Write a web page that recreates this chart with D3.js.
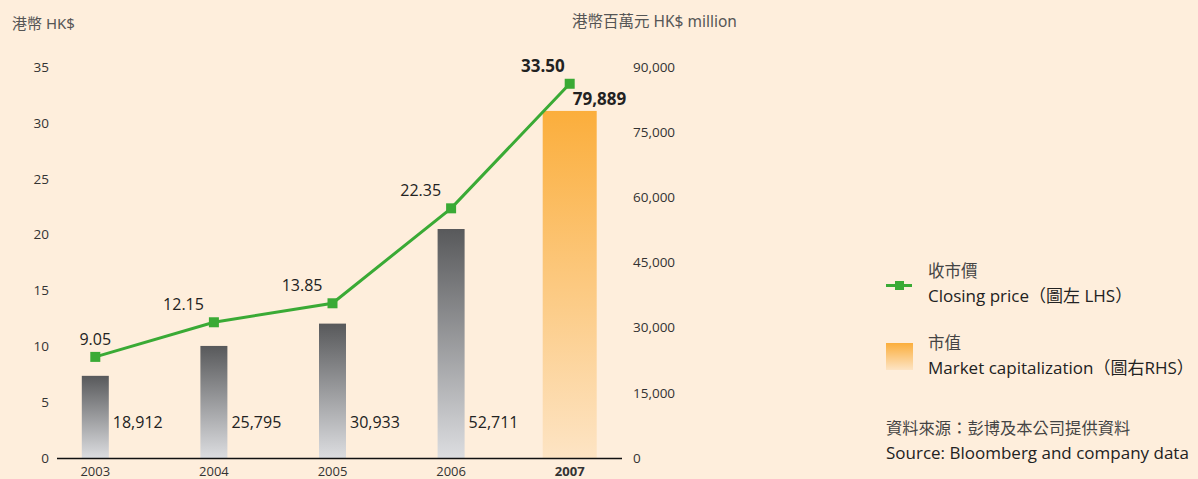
<!DOCTYPE html>
<html>
<head>
<meta charset="utf-8">
<script src="https://cdn.jsdelivr.net/npm/d3@7"></script>
<style>
  body { margin: 0; background: #feeedc; }
  svg { display: block; }
  text { font-family: "Open Sans", "Noto Sans CJK TC", sans-serif; }
</style>
</head>
<body>
<svg id="canvas" width="1198" height="479"></svg>
<script>
"use strict"

// chart data
let years = ["2003", "2004", "2005", "2006", "2007"];
let closingPrice = [9.05, 12.15, 13.85, 22.35, 33.50];
let marketCap = [18912, 25795, 30933, 52711, 79889];
let leftTicks = [0, 5, 10, 15, 20, 25, 30, 35];
let rightTicks = [0, 15000, 30000, 45000, 60000, 75000, 90000];

let svg = d3.select("#canvas");
let cjk = "\"Noto Sans CJK TC\", sans-serif";

// gradients for the bars
let defs = svg.append("defs");
let grey = defs.append("linearGradient").attr("id", "greyGrad")
    .attr("x1", 0).attr("y1", 0).attr("x2", 0).attr("y2", 1);
grey.append("stop").attr("offset", "0%").attr("stop-color", "#58595b");
grey.append("stop").attr("offset", "100%").attr("stop-color", "#dcdde0");
let orange = defs.append("linearGradient").attr("id", "orangeGrad")
    .attr("x1", 0).attr("y1", 0).attr("x2", 0).attr("y2", 1);
orange.append("stop").attr("offset", "0%").attr("stop-color", "#fbae3c");
orange.append("stop").attr("offset", "100%").attr("stop-color", "#fde4c4");

// scales
let x = d3.scaleBand().domain(years).range([36, 629]);
let yLeft = d3.scaleLinear().domain([0, 35]).range([458, 67]);
let yRight = d3.scaleLinear().domain([0, 90000]).range([458, 67]);
let cx = d => x(d) + x.bandwidth() / 2;

// axis titles
svg.append("text").attr("x", 12).attr("y", 29)
    .attr("font-size", 15).attr("fill", "#555")
    .style("font-family", "\"Noto Sans\", " + cjk)
    .text("港幣 HK$");
svg.append("text").attr("x", 572).attr("y", 27)
    .attr("font-size", 15.5).attr("fill", "#555")
    .style("font-family", "\"Noto Sans\", " + cjk)
    .text("港幣百萬元 HK$ million");

// left axis (labels only)
let leftAxis = svg.append("g").attr("transform", "translate(49,0)")
    .call(d3.axisLeft(yLeft).tickValues(leftTicks).tickSize(0).tickPadding(0));
leftAxis.select(".domain").remove();
leftAxis.selectAll("text").attr("font-size", 13.5).attr("fill", "#333")
    .style("font-family", "\"Open Sans\", sans-serif");

// right axis (labels only)
let rightAxis = svg.append("g").attr("transform", "translate(633,0)")
    .call(d3.axisRight(yRight).tickValues(rightTicks).tickSize(0).tickPadding(0)
        .tickFormat(d3.format(",")));
rightAxis.select(".domain").remove();
rightAxis.selectAll("text").attr("font-size", 13.5).attr("fill", "#333")
    .style("font-family", "\"Open Sans\", sans-serif");

// bars
let barW = i => (i === years.length - 1 ? 54 : 27);
svg.selectAll(".bar").data(marketCap).enter().append("rect")
    .attr("class", "bar")
    .attr("x", (d, i) => cx(years[i]) - barW(i) / 2)
    .attr("y", d => yRight(d))
    .attr("width", (d, i) => barW(i))
    .attr("height", d => yRight(0) - yRight(d))
    .attr("fill", (d, i) => i === years.length - 1 ? "url(#orangeGrad)" : "url(#greyGrad)");

// bar value labels
svg.selectAll(".barLabel").data(marketCap).enter().append("text")
    .attr("class", "barLabel")
    .attr("x", (d, i) => i === years.length - 1 ? cx(years[i]) + 3 : cx(years[i]) + barW(i) / 2 + 4)
    .attr("y", (d, i) => i === years.length - 1 ? yRight(d) - 6 : 428)
    .attr("font-size", (d, i) => i === years.length - 1 ? 17 : 16)
    .attr("font-weight", (d, i) => i === years.length - 1 ? "bold" : "normal")
    .attr("fill", "#222")
    .text(d => d3.format(",")(d));

// x axis baseline
svg.append("line")
    .attr("x1", 57).attr("x2", 622)
    .attr("y1", 458.5).attr("y2", 458.5)
    .attr("stroke", "#111").attr("stroke-width", 1.3);

// year labels
svg.selectAll(".year").data(years).enter().append("text")
    .attr("class", "year")
    .attr("x", d => cx(d))
    .attr("y", 476)
    .attr("text-anchor", "middle")
    .attr("font-size", 13)
    .attr("font-weight", (d, i) => i === years.length - 1 ? "bold" : "normal")
    .attr("fill", "#333")
    .text(d => d);

// closing price line
let line = d3.line().x((d, i) => cx(years[i])).y(d => yLeft(d));
svg.append("path").datum(closingPrice)
    .attr("d", line)
    .attr("fill", "none")
    .attr("stroke", "#3aaa35")
    .attr("stroke-width", 3);

svg.selectAll(".marker").data(closingPrice).enter().append("rect")
    .attr("class", "marker")
    .attr("x", (d, i) => cx(years[i]) - 5)
    .attr("y", d => yLeft(d) - 5)
    .attr("width", 10).attr("height", 10)
    .attr("fill", "#3aaa35");

// price labels
svg.selectAll(".priceLabel").data(closingPrice).enter().append("text")
    .attr("class", "priceLabel")
    .attr("x", (d, i) => i === 0 ? cx(years[i]) : cx(years[i]) - (i === years.length - 1 ? 5 : 10))
    .attr("y", d => yLeft(d) - 12)
    .attr("text-anchor", (d, i) => i === 0 ? "middle" : "end")
    .attr("font-size", (d, i) => i === years.length - 1 ? 17 : 16)
    .attr("font-weight", (d, i) => i === years.length - 1 ? "bold" : "normal")
    .attr("fill", "#222")
    .text(d => d.toFixed(2));

// legend
let legend = svg.append("g").style("font-family", "\"Noto Sans\", " + cjk);
legend.append("line")
    .attr("x1", 886).attr("x2", 912).attr("y1", 285.5).attr("y2", 285.5)
    .attr("stroke", "#3aaa35").attr("stroke-width", 3);
legend.append("rect")
    .attr("x", 895).attr("y", 281).attr("width", 9).attr("height", 9)
    .attr("fill", "#3aaa35");
legend.append("text").attr("x", 928).attr("y", 277)
    .attr("font-size", 16.5).attr("fill", "#444").style("font-family", cjk)
    .text("收市價");
legend.append("text").attr("x", 928).attr("y", 302)
    .attr("font-size", 17).attr("fill", "#222")
    .text("Closing price（圖左 LHS）");

legend.append("rect")
    .attr("x", 886).attr("y", 343).attr("width", 27).attr("height", 27)
    .attr("fill", "url(#orangeGrad)");
legend.append("text").attr("x", 928).attr("y", 349)
    .attr("font-size", 16.5).attr("fill", "#444").style("font-family", cjk)
    .text("市值");
legend.append("text").attr("x", 928).attr("y", 374)
    .attr("font-size", 17).attr("fill", "#222")
    .text("Market capitalization（圖右RHS）");

legend.append("text").attr("x", 886).attr("y", 434)
    .attr("font-size", 16.3).attr("fill", "#444").style("font-family", cjk)
    .text("資料來源：彭博及本公司提供資料");
legend.append("text").attr("x", 886).attr("y", 459)
    .attr("font-size", 17).attr("fill", "#222")
    .text("Source: Bloomberg and company data");
</script>
</body>
</html>
